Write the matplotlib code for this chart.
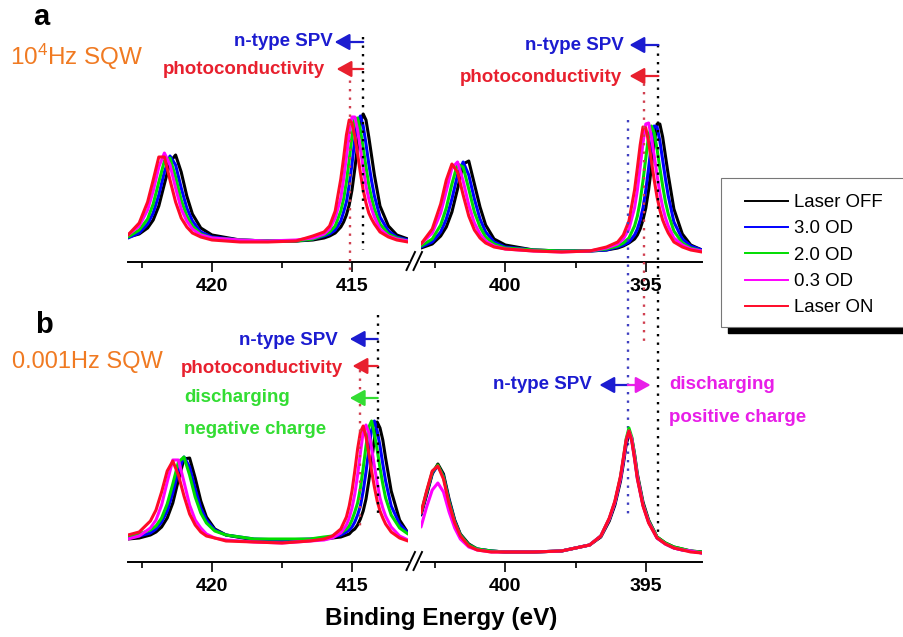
import matplotlib
matplotlib.use("Agg")
import matplotlib.pyplot as plt
from matplotlib.patches import FancyArrowPatch, Rectangle
from matplotlib.lines import Line2D

plt.rcParams['font.family'] = ['Liberation Sans', 'DejaVu Sans']
plt.rcParams['mathtext.default'] = 'regular'

# ---- data (intensity in a.u.) ----
labels = ['Laser OFF', '3.0 OD', '2.0 OD', '0.3 OD', 'Laser ON']
colors = ['#000000', '#0000ff', '#00dd00', '#ff00ff', '#ff0a28']

# panel a, high energy side
e_a_left = [423.0, 422.6, 422.3, 422.1, 421.9, 421.7, 421.5, 421.3, 421.1, 420.9, 420.7,
            420.4, 420.0, 419.0, 418.0, 417.0, 416.4, 416.0, 415.8, 415.6, 415.4, 415.3,
            415.2, 415.1, 415.0, 414.9, 414.8, 414.7, 414.6, 414.5, 414.4, 414.3, 414.2,
            414.0, 413.7, 413.4, 413.0]
a_left = [
    [25, 28, 34, 42, 56, 78, 100, 107, 90, 66, 48, 34, 27, 22, 21, 21, 22, 24, 26, 29, 35, 40, 47, 57, 72, 93, 116, 139, 148, 142, 125, 106, 87, 56, 36, 27, 23],
    [24, 29, 38, 49, 67, 90, 106, 97, 74, 54, 41, 30, 25, 22, 21, 21, 23, 26, 28, 32, 41, 50, 60, 77, 98, 122, 141, 146, 136, 118, 98, 81, 66, 45, 31, 25, 22],
    [25, 32, 43, 58, 80, 101, 104, 85, 62, 46, 36, 28, 24, 22, 21, 21, 23, 27, 30, 36, 51, 63, 80, 102, 126, 143, 144, 132, 114, 95, 77, 64, 53, 38, 28, 24, 21],
    [27, 36, 52, 71, 95, 109, 97, 74, 53, 41, 33, 27, 24, 22, 21, 22, 24, 28, 33, 44, 64, 83, 105, 129, 145, 145, 132, 113, 94, 76, 63, 53, 45, 33, 26, 23, 21],
    [27, 39, 60, 82, 105, 105, 82, 60, 44, 35, 29, 25, 22, 20, 20, 21, 26, 30, 36, 51, 83, 104, 127, 142, 139, 126, 108, 89, 72, 59, 49, 43, 38, 30, 25, 22, 20],
]

# panel a, low energy side
e_a_right = [403.0, 402.6, 402.3, 402.1, 401.9, 401.7, 401.5, 401.3, 401.1, 400.9, 400.7,
             400.4, 400.0, 399.0, 398.0, 397.0, 396.4, 396.0, 395.8, 395.6, 395.4, 395.3,
             395.2, 395.1, 395.0, 394.9, 394.8, 394.7, 394.6, 394.5, 394.4, 394.3, 394.2,
             394.0, 393.7, 393.4, 393.0]
a_right = [
    [14, 18, 26, 35, 50, 73, 98, 101, 78, 55, 37, 23, 17, 12, 11, 11, 12, 14, 16, 19, 23, 27, 33, 42, 54, 72, 95, 119, 138, 138, 125, 106, 87, 53, 28, 17, 12],
    [15, 20, 30, 43, 63, 87, 100, 87, 63, 43, 30, 20, 15, 12, 11, 11, 12, 15, 17, 20, 27, 33, 42, 54, 72, 94, 118, 136, 135, 121, 102, 83, 66, 40, 23, 16, 12],
    [16, 23, 37, 54, 78, 98, 95, 73, 50, 35, 25, 18, 14, 12, 11, 11, 13, 16, 19, 24, 36, 46, 61, 81, 104, 126, 136, 129, 113, 94, 76, 60, 48, 31, 19, 14, 11],
    [18, 29, 49, 71, 94, 100, 81, 57, 39, 28, 21, 16, 13, 11, 10, 11, 14, 18, 23, 33, 54, 72, 95, 119, 138, 139, 125, 106, 87, 69, 55, 44, 36, 24, 17, 13, 11],
    [18, 33, 58, 82, 98, 90, 67, 46, 32, 24, 19, 15, 13, 11, 10, 11, 15, 20, 27, 41, 72, 94, 117, 135, 134, 120, 101, 82, 65, 52, 42, 35, 29, 20, 15, 12, 10],
]

# panel b, high energy side
e_b_left = [423.0, 422.6, 422.2, 422.0, 421.8, 421.6, 421.4, 421.2, 421.0, 420.8, 420.6,
            420.4, 420.2, 419.9, 419.5, 418.5, 417.5, 416.5, 416.0, 415.7, 415.4, 415.2,
            415.1, 415.0, 414.9, 414.8, 414.7, 414.6, 414.5, 414.4, 414.3, 414.2, 414.1,
            414.0, 413.9, 413.8, 413.6, 413.3, 413.0]
b_left = [
    [23, 24, 27, 30, 35, 44, 59, 82, 103, 104, 84, 61, 45, 33, 27, 22, 21, 22, 23, 24, 25, 27, 28, 31, 33, 37, 43, 51, 63, 81, 101, 123, 140, 134, 122, 104, 71, 42, 29],
    [24, 26, 29, 33, 40, 51, 69, 91, 105, 95, 73, 54, 42, 32, 27, 23, 22, 23, 24, 25, 27, 30, 32, 35, 40, 47, 56, 71, 90, 112, 132, 141, 131, 116, 98, 81, 56, 38, 29],
    [26, 28, 32, 36, 44, 58, 78, 100, 105, 87, 65, 49, 39, 31, 27, 23, 23, 23, 25, 26, 29, 33, 36, 42, 50, 59, 74, 94, 116, 135, 141, 128, 112, 94, 78, 64, 47, 34, 28],
    [23, 26, 34, 42, 57, 80, 102, 102, 80, 57, 42, 34, 28, 24, 22, 20, 19, 21, 22, 24, 29, 37, 44, 54, 68, 87, 109, 130, 137, 129, 114, 96, 79, 64, 54, 46, 35, 26, 22],
    [27, 30, 41, 52, 70, 91, 101, 87, 66, 48, 37, 30, 26, 24, 21, 20, 19, 21, 23, 26, 33, 45, 56, 71, 91, 113, 130, 136, 125, 109, 91, 75, 61, 51, 44, 38, 30, 24, 21],
]

# panel b, low energy side
e_b_right = [403.0, 402.8, 402.6, 402.4, 402.2, 402.0, 401.8, 401.6, 401.3, 401.0, 400.5,
             400.0, 399.0, 398.0, 397.0, 396.6, 396.3, 396.1, 395.9, 395.8, 395.7, 395.6,
             395.5, 395.4, 395.3, 395.1, 394.9, 394.6, 394.3, 394.0, 393.7, 393.4, 393.0]
b_right = [
    [47, 67, 88, 98, 88, 63, 42, 28, 18, 13, 11, 10, 10, 11, 17, 25, 41, 57, 81, 98, 117, 128, 124, 108, 88, 60, 42, 25, 19, 15, 13, 11, 10],
    [48, 69, 89, 96, 86, 61, 41, 27, 17, 13, 11, 10, 10, 11, 17, 26, 43, 59, 84, 101, 120, 131, 122, 104, 84, 57, 40, 24, 18, 14, 12, 11, 9],
    [49, 70, 90, 97, 85, 60, 40, 27, 17, 13, 11, 10, 10, 11, 17, 26, 43, 60, 85, 103, 123, 134, 125, 107, 86, 58, 41, 25, 19, 15, 13, 11, 10],
    [35, 55, 72, 79, 70, 50, 34, 23, 15, 12, 10, 10, 10, 11, 17, 26, 43, 60, 84, 102, 121, 131, 123, 105, 85, 57, 40, 24, 18, 14, 12, 11, 9],
    [49, 71, 91, 96, 83, 58, 39, 26, 16, 12, 10, 10, 10, 11, 17, 26, 44, 61, 86, 104, 122, 131, 121, 103, 83, 56, 39, 24, 18, 14, 12, 10, 9],
]

BLUE_T = '#1c1cd0'
RED_T = '#e8202e'
GREEN_T = '#33dd33'
MAG_T = '#e81ee8'
ORANGE = '#f07a22'

W, H = 904, 637
fig = plt.figure(figsize=(W / 100, H / 100), dpi=100)


def rect(x0, y_top, x1, y_bot):
    return [x0 / W, 1 - y_bot / H, (x1 - x0) / W, (y_bot - y_top) / H]


def style(ax, xlim, ylim, major, minor):
    ax.set_xlim(*xlim)
    ax.set_ylim(*ylim)
    ax.set_facecolor('none')
    for s in ['top', 'left', 'right']:
        ax.spines[s].set_visible(False)
    ax.spines['bottom'].set_linewidth(1.4)
    ax.set_yticks([])
    ax.set_xticks(major, [str(m) for m in major])
    ax.set_xticks(minor, minor=True)
    ax.tick_params(axis='x', which='major', direction='out', length=7, width=1.2,
                   pad=4.5, labelsize=14)
    ax.tick_params(axis='x', which='minor', direction='out', length=4, width=1.2)
    for lab in ax.get_xticklabels():
        lab.set_fontweight('bold')


def curves(ax, e, ys):
    for y, c, lab in zip(ys, colors, labels):
        ax.plot(e, y, color=c, lw=2.2, label=lab, solid_joinstyle='round',
                solid_capstyle='round')


def dots(ax, e, h0, h1, c):
    ax.plot([e, e], [h0, h1], ls=(0, (1, 2.6)), lw=1.7, color=c, clip_on=False, zorder=5)


def arrow(ax, e0, e1, h, c):
    ax.add_patch(FancyArrowPatch((e0, h), (e1, h), arrowstyle='-|>,head_length=0.6,head_width=0.33',
                                 mutation_scale=15, lw=1.6, color=c, clip_on=False,
                                 shrinkA=0, shrinkB=0, zorder=6))


def note(ax, e, h, s, c, ha='right'):
    ax.text(e, h, s, color=c, fontsize=13.5, fontweight='bold', ha=ha, va='baseline',
            clip_on=False)


ax_al = fig.add_axes(rect(128, 30, 408, 262))
ax_ar = fig.add_axes(rect(421, 30, 702, 262))
ax_bl = fig.add_axes(rect(128, 300, 408, 562))
ax_br = fig.add_axes(rect(421, 300, 702, 562))

style(ax_al, (423, 413), (0, 232), [420, 415], [422.5, 417.5])
style(ax_ar, (403, 393), (0, 232), [400, 395], [402.5, 397.5])
style(ax_bl, (423, 413), (0, 262), [420, 415], [422.5, 417.5])
style(ax_br, (403, 393), (0, 262), [400, 395], [402.5, 397.5])

curves(ax_al, e_a_left, a_left)
curves(ax_ar, e_a_right, a_right)
curves(ax_bl, e_b_left, b_left)
curves(ax_br, e_b_right, b_right)

# panel a annotations
dots(ax_al, 414.6, 225, 12, 'k')
dots(ax_al, 415.08, 190, -8, '#d04050')
note(ax_al, 415.7, 215.5, 'n-type SPV', BLUE_T)
note(ax_al, 415.95, 188, 'photoconductivity', RED_T)
arrow(ax_al, 414.6, 415.62, 220, BLUE_T)
arrow(ax_al, 414.6, 415.55, 193, RED_T)

dots(ax_ar, 394.55, 217, -275, 'k')
dots(ax_ar, 395.07, 187, -81, '#d04050')
dots(ax_ar, 395.64, 142, -256, '#4040c0')
note(ax_ar, 395.78, 212, 'n-type SPV', BLUE_T)
note(ax_ar, 395.85, 180, 'photoconductivity', RED_T)
arrow(ax_ar, 394.55, 395.58, 217, BLUE_T)
arrow(ax_ar, 394.55, 395.58, 186, RED_T)

# panel b annotations
dots(ax_bl, 414.08, 247, 47, 'k')
dots(ax_bl, 414.71, 192, 32, '#d04050')
note(ax_bl, 415.5, 217, 'n-type SPV', BLUE_T)
note(ax_bl, 415.32, 189, 'photoconductivity', RED_T)
note(ax_bl, 421.0, 160, 'discharging', GREEN_T, ha='left')
note(ax_bl, 421.0, 128, 'negative charge', GREEN_T, ha='left')
arrow(ax_bl, 414.08, 415.08, 223, BLUE_T)
arrow(ax_bl, 414.08, 414.98, 196, RED_T)
arrow(ax_bl, 414.08, 415.08, 164, GREEN_T)

note(ax_br, 396.91, 173, 'n-type SPV', BLUE_T)
note(ax_br, 394.17, 173, 'discharging', MAG_T, ha='left')
note(ax_br, 394.17, 140, 'positive charge', MAG_T, ha='left')
arrow(ax_br, 395.64, 396.65, 177, BLUE_T)
arrow(ax_br, 395.64, 394.83, 177, MAG_T)

# axis breaks
for yb in (262, 562):
    for dx in (0, 7):
        fig.add_artist(Line2D([(406.5 + dx) / W, (415 + dx) / W],
                              [1 - (yb + 8) / H, 1 - (yb - 10) / H], color='k', lw=1.4))

# panel labels
fig.text(33 / W, 1 - 25 / H, 'a', fontsize=21, fontweight='bold', va='baseline')
fig.text(35 / W, 1 - 333 / H, 'b', fontsize=21, fontweight='bold', va='baseline')
fig.text(10 / W, 1 - 65 / H, '10$^{4}$Hz SQW', fontsize=17.5, color=ORANGE, va='baseline')
fig.text(12 / W, 1 - 368 / H, '0.001Hz SQW', fontsize=17, color=ORANGE, va='baseline')

fig.text(441 / W, 1 - 619 / H, 'Binding Energy (eV)', fontsize=17.5, fontweight='bold',
         ha='center', va='center')

# legend with shadow box
fig.add_artist(Rectangle((728 / W, 1 - 333 / H), 230 / W, 149 / H, transform=fig.transFigure,
                         facecolor='k', edgecolor='k', zorder=1))
fig.add_artist(Rectangle((721 / W, 1 - 327 / H), 230 / W, 149 / H, transform=fig.transFigure,
                         facecolor='white', edgecolor='#777777', lw=0.8, zorder=2))
leg_handles = [Line2D([], [], color=c, lw=1.4) for c in colors]
fig.legend(leg_handles, labels, loc='upper left', bbox_to_anchor=(745 / W, 1 - 194 / H),
           frameon=False, borderaxespad=0, borderpad=0, handlelength=2.3,
           handletextpad=0.35, labelspacing=0.5, fontsize=13.4)

fig.savefig('out.png', dpi=100)
